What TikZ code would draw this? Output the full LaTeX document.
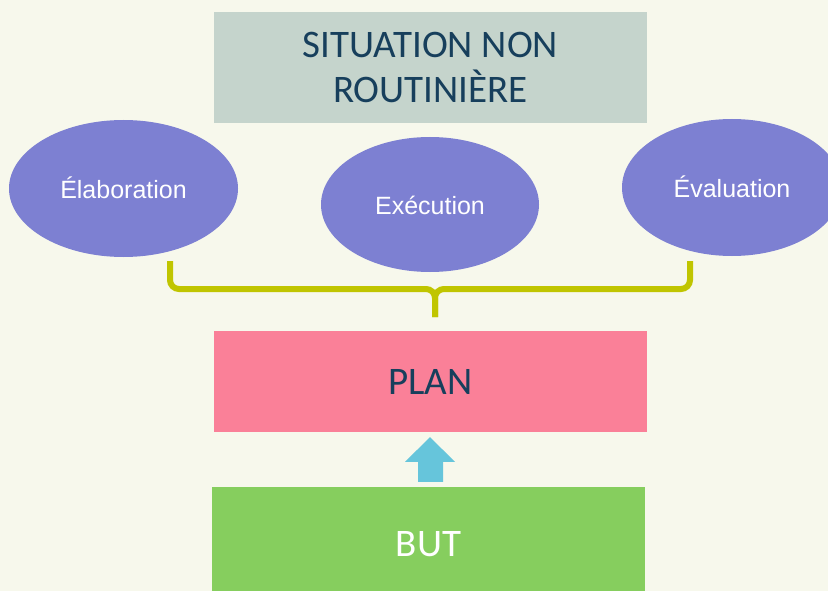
\documentclass[tikz,border=0pt]{standalone}
\usepackage{fontspec}
\usepackage{tikz}
\usetikzlibrary{calc}
\usetikzlibrary{shapes.geometric}
\newfontfamily\boxfont{Carlito}
\newfontfamily\ovalfont{Liberation Sans}
\definecolor{fond}{HTML}{F7F8EC}
\definecolor{gris}{HTML}{C5D4CC}
\definecolor{violet}{HTML}{7D80D2}
\definecolor{olive}{HTML}{C0C500}
\definecolor{rose}{HTML}{FA8098}
\definecolor{ciel}{HTML}{66C5DB}
\definecolor{vert}{HTML}{86CE5E}
\definecolor{encre}{HTML}{173F5C}
\tikzset{
	bloc/.style={rectangle,inner sep=0pt,minimum width=433pt,font=\boxfont\fontsize{39}{45}\selectfont,align=center},
	oval/.style={ellipse,fill=violet,inner sep=0pt,text=white,font=\ovalfont\fontsize{25}{30}\selectfont,text height=20pt,text depth=0pt},
	accolade/.style={olive,line width=6pt,rounded corners=9pt}
}

\begin{document}
\begin{tikzpicture}[x=1pt,y=-1pt]
		\fill[fond] (0,0) rectangle (828,591);
		\clip (0,0) rectangle (828,591);
		\node[bloc,fill=gris,text=encre,minimum height=111pt] (situation) at (430.5,67.5) {SITUATION NON\\ROUTINIÈRE};
		\node[oval,minimum width=229pt,minimum height=137pt] (elaboration) at (123.5,188.5) {Élaboration};
		\node[oval,minimum width=218pt,minimum height=135pt] (execution) at (430,204.5) {Exécution};
		\node[oval,minimum width=220pt,minimum height=137pt] (evaluation) at (732,187.5) {Évaluation};
		\coordinate (gauche) at (170,261);
		\coordinate (droite) at (690,261);
		\coordinate (pointe) at (435,317);
		\draw[accolade] (gauche) |- (pointe |- 0,289) -- (pointe);
		\draw[accolade] (droite) |- (pointe |- 0,289) -- (pointe);
		\node[bloc,fill=rose,text=encre,minimum height=101pt] (plan) at (430.5,381.5) {PLAN};
		\node[bloc,fill=vert,text=white,minimum height=114pt] (but) at (428.5,544) {BUT};
		\fill[ciel] ($(but.north)+(-10.5,-5)$) -- ++(0,-20) -- ++(-13,0) -- ($(plan.south)+(-0.5,5)$) -- ($(but.north)+(26.5,-25)$) -- ++(-12,0) -- ++(0,20) -- cycle;
	\end{tikzpicture}
\end{document}
